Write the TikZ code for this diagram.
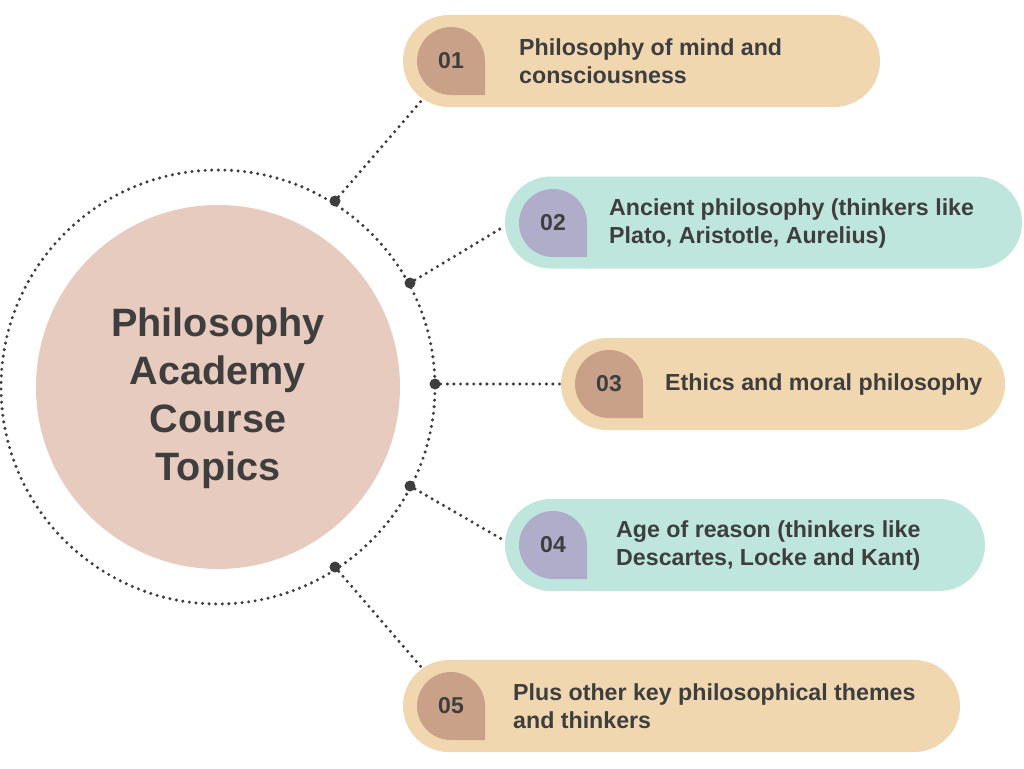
\documentclass[tikz,border=0pt]{standalone}
\usepackage{fontspec}
\setmainfont{Liberation Sans}
\definecolor{wheat}{RGB}{240,215,176}
\definecolor{mint}{RGB}{191,230,221}
\definecolor{brownb}{RGB}{201,160,136}
\definecolor{lav}{RGB}{176,173,202}
\definecolor{pinkc}{RGB}{232,203,191}
\definecolor{ink}{RGB}{62,62,62}
\tikzset{
  pill/.style={rounded corners=46pt, inner sep=0pt, minimum height=92pt},
  dotline/.style={ink, line width=3.4pt, line cap=round, dash pattern=on 0pt off 6.6pt},
  hub/.style={circle, fill=ink, inner sep=0pt, minimum size=11pt},
  num/.style={font=\fontsize{23}{26}\selectfont\bfseries, text=ink},
  lbl/.style={font=\fontsize{23.2}{28}\selectfont\bfseries, text=ink, align=left, anchor=west, inner sep=0pt},
}
\newcommand{\badge}[3]{% cx, cy, colour
  \fill[#3] (#1+34,#2) -- (#1+34,#2+34) -- (#1,#2+34) arc[start angle=90, end angle=360, radius=34] -- cycle;
}
\begin{document}
\begin{tikzpicture}[x=1pt,y=-1pt]
\useasboundingbox (0,0) rectangle (1024,768);
% central circles
\node[circle, fill=pinkc, minimum size=364pt, inner sep=0pt] (core) at (218,387) {};
\draw[dotline] (218,387) circle[radius=217];
\node[font=\fontsize{39.6}{48}\selectfont\bfseries, text=ink, align=center] (title) at (218,398) {Philosophy\\Academy\\Course\\Topics};
% pills
\node[pill, fill=wheat, minimum width=477pt] (p1) at (641.5,61) {};
\node[pill, fill=mint,  minimum width=517pt] (p2) at (763.5,222.5) {};
\node[pill, fill=wheat, minimum width=444pt] (p3) at (783,384) {};
\node[pill, fill=mint,  minimum width=480pt] (p4) at (745,545) {};
\node[pill, fill=wheat, minimum width=557pt] (p5) at (681.5,706) {};
% badges
\badge{451}{61}{brownb}
\badge{553}{223}{lav}
\badge{609}{384}{brownb}
\badge{553}{545}{lav}
\badge{451}{706}{brownb}
\node[num] (n1) at (451,61) {01};
\node[num] (n2) at (553,223) {02};
\node[num] (n3) at (609,384) {03};
\node[num] (n4) at (553,545) {04};
\node[num] (n5) at (451,706) {05};
% labels
\node[lbl] (t1) at (519,61) {Philosophy of mind and\\consciousness};
\node[lbl] (t2) at (609,223) {Ancient philosophy (thinkers like\\Plato, Aristotle, Aurelius)};
\node[lbl] (t3) at (665,384) {Ethics and moral philosophy};
\node[lbl] (t4) at (616,545) {Age of reason (thinkers like\\Descartes, Locke and Kant)};
\node[lbl] (t5) at (513,706) {Plus other key philosophical themes\\and thinkers};
% hubs on dotted circle
\node[hub] (h1) at (335,201) {};
\node[hub] (h2) at (410,283) {};
\node[hub] (h3) at (435,384) {};
\node[hub] (h4) at (410,486) {};
\node[hub] (h5) at (335,567) {};
% connector end points on pills
\coordinate (e1) at (422,100);
\coordinate (e2) at (505,226);
\coordinate (e3) at (561,384);
\coordinate (e4) at (505,541);
\coordinate (e5) at (422,668);
\draw[dotline] (h1) -- (e1);
\draw[dotline] (h2) -- (e2);
\draw[dotline] (h3) -- (e3);
\draw[dotline] (h4) -- (e4);
\draw[dotline] (h5) -- (e5);
\end{tikzpicture}
\end{document}
